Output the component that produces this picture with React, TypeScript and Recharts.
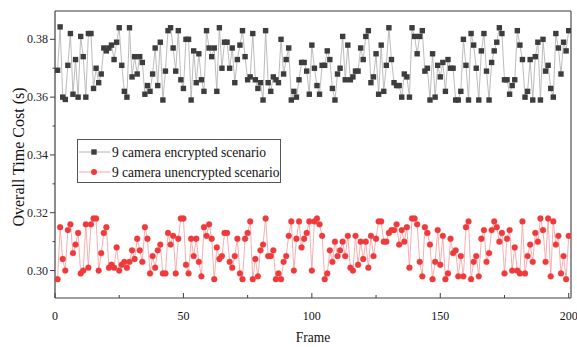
import React from 'react';
import { LineChart, Line, XAxis, YAxis, ReferenceLine, Legend } from 'recharts';

// per-frame time cost, frames 1..200
const ENCRYPTED = [
  0.3693, 0.3843, 0.360, 0.3592, 0.371, 0.382, 0.361, 0.373, 0.360, 0.381,
  0.374, 0.360, 0.382, 0.382, 0.363, 0.370, 0.365, 0.368, 0.377, 0.376,
  0.377, 0.378, 0.373, 0.379, 0.384, 0.371, 0.362, 0.360, 0.384, 0.367,
  0.374, 0.368, 0.374, 0.372, 0.361, 0.364, 0.362, 0.368, 0.377, 0.364,
  0.379, 0.359, 0.369, 0.383, 0.384, 0.377, 0.369, 0.383, 0.366, 0.363,
  0.380, 0.380, 0.359, 0.376, 0.365, 0.375, 0.366, 0.362, 0.383, 0.377,
  0.374, 0.377, 0.362, 0.384, 0.370, 0.379, 0.379, 0.370, 0.377, 0.365,
  0.373, 0.378, 0.383, 0.374, 0.366, 0.367, 0.382, 0.366, 0.363, 0.365,
  0.359, 0.383, 0.365, 0.362, 0.367, 0.366, 0.365, 0.380, 0.368, 0.373,
  0.377, 0.359, 0.362, 0.360, 0.366, 0.372, 0.372, 0.369, 0.361, 0.378,
  0.370, 0.364, 0.361, 0.371, 0.371, 0.376, 0.373, 0.363, 0.359, 0.368,
  0.370, 0.381, 0.366, 0.378, 0.366, 0.367, 0.369, 0.369, 0.377, 0.373,
  0.381, 0.383, 0.365, 0.367, 0.375, 0.361, 0.378, 0.362, 0.371, 0.384,
  0.373, 0.365, 0.364, 0.364, 0.360, 0.368, 0.367, 0.360, 0.384, 0.381,
  0.375, 0.381, 0.383, 0.369, 0.370, 0.359, 0.375, 0.360, 0.371, 0.367,
  0.372, 0.362, 0.373, 0.370, 0.370, 0.359, 0.359, 0.362, 0.380, 0.371,
  0.359, 0.382, 0.378, 0.370, 0.359, 0.376, 0.382, 0.369, 0.359, 0.372,
  0.376, 0.379, 0.384, 0.382, 0.366, 0.366, 0.361, 0.364, 0.366, 0.383,
  0.378, 0.373, 0.360, 0.362, 0.373, 0.359, 0.374, 0.379, 0.359, 0.380,
  0.369, 0.371, 0.363, 0.360, 0.382, 0.377, 0.368, 0.379, 0.376, 0.383,
];

const UNENCRYPTED = [
  0.297, 0.315, 0.304, 0.300, 0.314, 0.316, 0.306, 0.309, 0.313, 0.299,
  0.300, 0.316, 0.301, 0.316, 0.318, 0.318, 0.300, 0.306, 0.313, 0.315,
  0.301, 0.302, 0.301, 0.308, 0.300, 0.302, 0.303, 0.301, 0.303, 0.307,
  0.304, 0.311, 0.307, 0.303, 0.315, 0.311, 0.299, 0.305, 0.301, 0.307,
  0.309, 0.299, 0.299, 0.313, 0.309, 0.312, 0.299, 0.311, 0.318, 0.318,
  0.302, 0.299, 0.311, 0.305, 0.311, 0.303, 0.298, 0.315, 0.312, 0.316,
  0.311, 0.297, 0.308, 0.304, 0.305, 0.313, 0.313, 0.303, 0.301, 0.305,
  0.311, 0.299, 0.297, 0.311, 0.313, 0.317, 0.297, 0.304, 0.298, 0.307,
  0.309, 0.318, 0.305, 0.305, 0.307, 0.297, 0.299, 0.297, 0.303, 0.305,
  0.312, 0.317, 0.300, 0.311, 0.317, 0.308, 0.311, 0.313, 0.317, 0.300,
  0.317, 0.318, 0.316, 0.312, 0.297, 0.299, 0.307, 0.303, 0.310, 0.305,
  0.307, 0.310, 0.305, 0.312, 0.301, 0.300, 0.312, 0.302, 0.310, 0.304,
  0.310, 0.301, 0.312, 0.305, 0.311, 0.317, 0.317, 0.310, 0.310, 0.313,
  0.314, 0.314, 0.316, 0.309, 0.314, 0.310, 0.315, 0.301, 0.318, 0.318,
  0.316, 0.303, 0.298, 0.315, 0.313, 0.309, 0.297, 0.303, 0.314, 0.302,
  0.312, 0.297, 0.299, 0.311, 0.306, 0.307, 0.298, 0.305, 0.298, 0.315,
  0.317, 0.297, 0.303, 0.305, 0.298, 0.311, 0.314, 0.303, 0.306, 0.314,
  0.317, 0.315, 0.310, 0.313, 0.299, 0.311, 0.314, 0.300, 0.308, 0.300,
  0.299, 0.317, 0.299, 0.305, 0.309, 0.303, 0.313, 0.310, 0.318, 0.314,
  0.303, 0.318, 0.298, 0.317, 0.309, 0.312, 0.299, 0.305, 0.297, 0.312,
];

const FRAMES = ENCRYPTED.map((_, i) => i + 1);

const X_TICKS = [0, 25, 50, 75, 100, 125, 150, 175, 200];
const Y_TICKS = [0.30, 0.31, 0.32, 0.33, 0.34, 0.35, 0.36, 0.37, 0.38];

const X_MAX = 200.9;
const Y_MIN = 0.2905;
const Y_MAX = 0.3898;

const SERIES_NAMES = ['9 camera encrypted scenario', '9 camera unencrypted scenario'];
const X_TITLE = 'Frame';
const Y_TITLE = 'Overall Time Cost (s)';

const FONT = '"Liberation Serif", "Times New Roman", serif';
const AXIS = '#404040';
const GREY_MARK = '#3d3d3d';
const GREY_LINE = '#b4b4b4';
const RED_MARK = '#ef3a3c';
const RED_LINE = '#f6a6a6';

const data = FRAMES.map((frame, i) => ({
  frame,
  enc: ENCRYPTED[i],
  unenc: UNENCRYPTED[i],
}));

// the source picture is a little stretched vertically, so text gets a y-scale
const Stretched = ({ x, y, size, anchor = 'start', children }: any) => (
  <text
    transform={`translate(${x},${y}) scale(1,1.12)`}
    textAnchor={anchor}
    fontSize={size}
    fontFamily={FONT}
    fill="#111"
  >
    {children}
  </text>
);

const XTick = (props: any) => {
  const { x, y, payload } = props;
  const major = payload.value % 50 === 0;
  return (
    <g>
      <line x1={x} y1={y} x2={x} y2={y - (major ? 5 : 3)} stroke={AXIS} strokeWidth={1} />
      {major && (
        <Stretched x={x} y={y + 22} size={12} anchor="middle">
          {payload.value}
        </Stretched>
      )}
    </g>
  );
};

const YTick = (props: any) => {
  const { x, y, payload } = props;
  const major = Math.round(payload.value * 100) % 2 === 0;
  return (
    <g>
      <line x1={x} y1={y} x2={x - (major ? 5 : 2.5)} y2={y} stroke={AXIS} strokeWidth={1} />
      {major && (
        <text x={x - 7} y={y + 4} textAnchor="end" fontSize={12} fontFamily={FONT} fill="#222">
          {payload.value.toFixed(2)}
        </text>
      )}
    </g>
  );
};

const XTitle = (props: any) => {
  const vb = props.viewBox || { x: 55, width: 516, y: 298 };
  return (
    <Stretched x={vb.x + vb.width / 2} y={vb.y + 44} size={13.5} anchor="middle">
      {X_TITLE}
    </Stretched>
  );
};

const renderSquare = (props: any) => {
  const { cx, cy, index } = props;
  if (cx == null || cy == null) return <g key={`sq-${index}`} />;
  return <rect key={`sq-${index}`} x={cx - 2.7} y={cy - 2.7} width={5.4} height={5.4} fill={GREY_MARK} />;
};

const LegendBox = () => (
  <svg width={204} height={44} style={{ display: 'block' }}>
    <rect x={0.5} y={0.5} width={203} height={43} fill="#fff" stroke="#555" strokeWidth={1} />
    <line x1={2} y1={13} x2={33} y2={13} stroke={GREY_LINE} strokeWidth={1} />
    <rect x={14.3} y={10.3} width={5.4} height={5.4} fill={GREY_MARK} />
    <Stretched x={35} y={17.8} size={13.5}>{SERIES_NAMES[0]}</Stretched>
    <line x1={2} y1={33} x2={33} y2={33} stroke={RED_LINE} strokeWidth={1} />
    <circle cx={17} cy={33} r={3} fill={RED_MARK} />
    <Stretched x={35} y={37.8} size={13.5}>{SERIES_NAMES[1]}</Stretched>
  </svg>
);

export default function App() {
  return (
    <div style={{ position: 'absolute', left: 0, top: 0, background: '#fff', fontFamily: FONT }}>
      <LineChart width={577} height={347} data={data} margin={{ top: 11, right: 6, left: 0, bottom: 0 }}>
        <XAxis
          type="number"
          dataKey="frame"
          domain={[0, X_MAX]}
          ticks={X_TICKS}
          interval={0}
          allowDataOverflow
          tick={<XTick />}
          tickLine={false}
          tickSize={0}
          tickMargin={0}
          height={49}
          axisLine={{ stroke: AXIS, strokeWidth: 1.2 }}
          label={{ content: (p: any) => <XTitle {...p} /> }}
        />
        <YAxis
          type="number"
          domain={[Y_MIN, Y_MAX]}
          ticks={Y_TICKS}
          interval={0}
          allowDataOverflow
          tick={<YTick />}
          tickLine={false}
          tickSize={0}
          tickMargin={0}
          width={55}
          axisLine={{ stroke: AXIS, strokeWidth: 1.2 }}
          label={{
            value: Y_TITLE,
            angle: -90,
            position: 'center',
            dx: -9.5,
            dy: 2.5,
            fontSize: 16,
            fontFamily: FONT,
            fill: '#111',
          }}
        />
        <ReferenceLine y={Y_MAX} stroke="#7a7a7a" strokeWidth={1.3} />
        <ReferenceLine x={X_MAX} stroke="#505050" strokeWidth={1.2} />
        <Legend
          layout="horizontal"
          verticalAlign="middle"
          align="center"
          wrapperStyle={{ left: 77, top: 139, width: 204, height: 44 }}
          content={() => <LegendBox />}
        />
        <Line
          type="linear"
          dataKey="enc"
          name={SERIES_NAMES[0]}
          stroke={GREY_LINE}
          strokeWidth={0.9}
          dot={renderSquare}
          activeDot={false}
          isAnimationActive={false}
        />
        <Line
          type="linear"
          dataKey="unenc"
          name={SERIES_NAMES[1]}
          stroke={RED_LINE}
          strokeWidth={0.9}
          dot={{ r: 2.9, fill: RED_MARK, stroke: RED_MARK, strokeWidth: 0.4 }}
          activeDot={false}
          isAnimationActive={false}
        />
      </LineChart>
    </div>
  );
}
